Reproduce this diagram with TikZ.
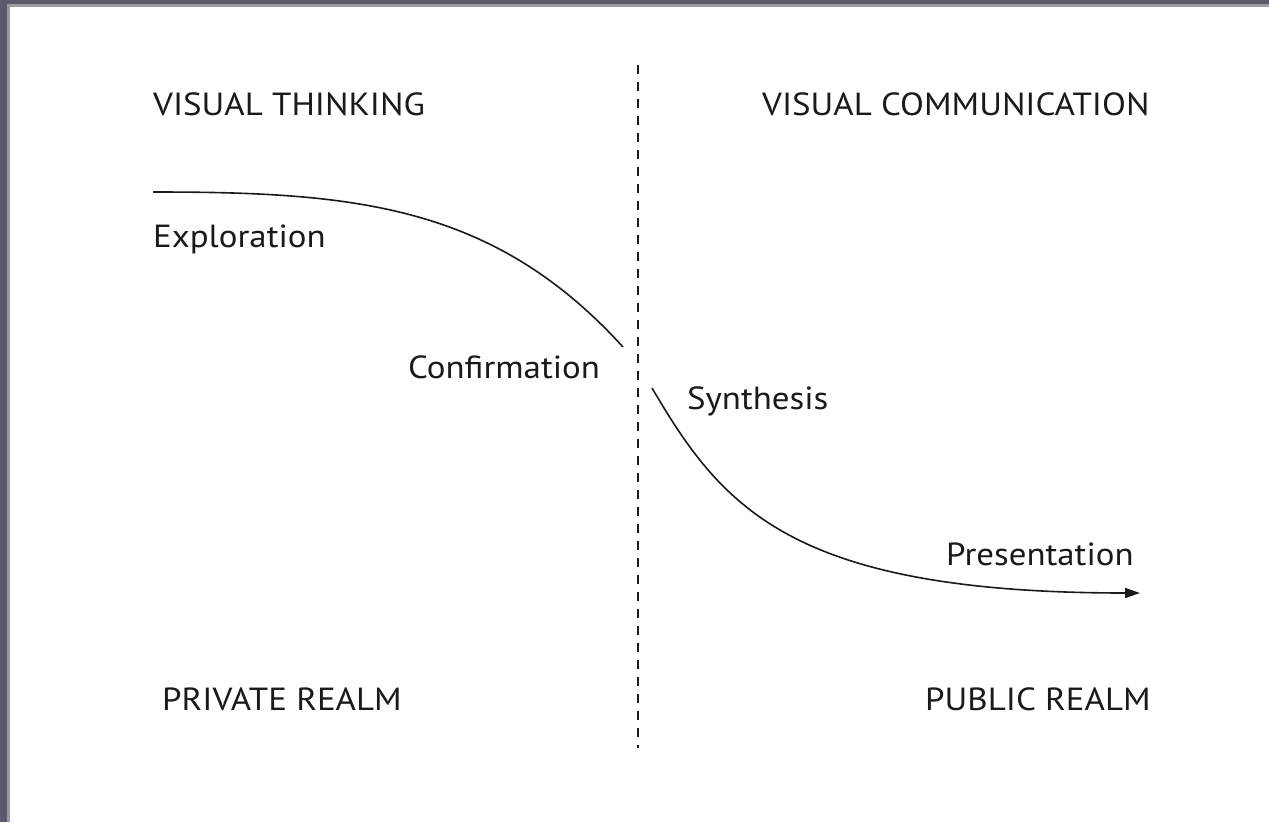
\documentclass[tikz,border=0pt]{standalone}
\usepackage{fontspec}
\setmainfont[FakeStretch=1.09]{PT Sans}
\usetikzlibrary{arrows.meta}
\definecolor{frameDark}{HTML}{5A5A6C}
\definecolor{frameLight}{HTML}{9A9A9E}
\definecolor{ink}{HTML}{1A1A1A}
\tikzset{
  label/.style={anchor=base west, inner sep=0pt, text=ink, font=\fontsize{32}{38}\selectfont},
  curve/.style={draw=ink, line width=1.6pt},
  divider/.style={draw=ink, line width=1.4pt, dash pattern=on 9pt off 8pt}
}
\begin{document}
\begin{tikzpicture}[x=1pt,y=-1pt]
  % canvas and window frame
  \fill[white] (0,0) rectangle (1269,822);
  \useasboundingbox (0,0) rectangle (1269,822);
  \fill[frameDark] (0,0) rectangle (1269,4);
  \fill[frameLight] (0,4) rectangle (1269,7);
  \fill[frameDark] (0,0) rectangle (7,822);
  \fill[frameLight] (7,7) rectangle (10,822);

  % headings
  \node[label] (vt) at (153,115) {VISUAL THINKING};
  \node[label] (vc) at (762,115) {VISUAL COMMUNICATION};
  \node[label] (pr) at (162,710) {PRIVATE REALM};
  \node[label] (pu) at (925,710) {PUBLIC REALM};

  % stage labels
  \node[label] (ex) at (153,247) {Exploration};
  \node[label] (cf) at (408,378) {Confirmation};
  \node[label] (sy) at (687,409) {Synthesis};
  \node[label] (ps) at (946,565) {Presentation};

  % dividing line
  \coordinate (dtop) at (638,65);
  \coordinate (dbot) at (638,748);
  \draw[divider] (dtop) -- (dbot);

  % private curve
  \coordinate (c1s) at (153,192);
  \coordinate (c1e) at (623,347);
  \draw[curve] (c1s) .. controls (353,192) and (493,204) .. (c1e);

  % public curve
  \coordinate (c2s) at (652,388);
  \coordinate (c2e) at (1140,593);
  \draw[curve, -{Triangle[length=15pt,width=10pt]}] (c2s) .. controls (722,507) and (790,593) .. (c2e);
\end{tikzpicture}
\end{document}
